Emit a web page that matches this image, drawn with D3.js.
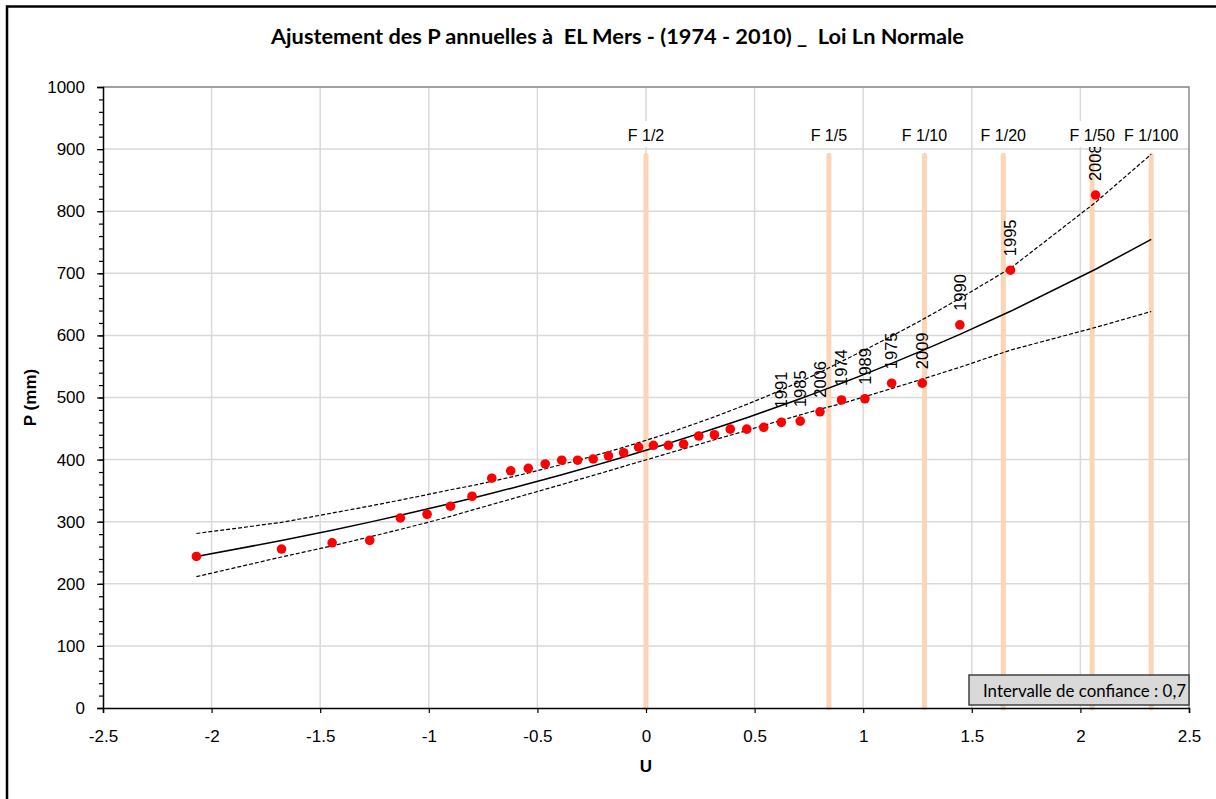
<!DOCTYPE html>
<html><head><meta charset="utf-8">
<script src="https://cdn.jsdelivr.net/npm/d3@7"></script>
<style>body{margin:0;background:#fff}svg{display:block}</style>
</head><body><svg id="c" width="1216" height="799"></svg>
<script>
// Observed annual precipitation (sorted) and their plotting positions U
const pointU = [-2.070,-1.678,-1.445,-1.272,-1.131,-1.008,-0.900,-0.801,-0.710,-0.623,-0.542,-0.464,-0.388,-0.315,-0.243,-0.173,-0.103,-0.034,
                 0.034, 0.103, 0.173, 0.243, 0.315, 0.388, 0.464, 0.542, 0.623, 0.710, 0.801, 0.900, 1.008, 1.131, 1.272, 1.445, 1.678, 2.070];
const pointP = [244,256,266,270,306,312,325,341,370,382,386,393,399,399,401,406,411,420,
                423,423,425,438,440,449,449,452,460,462,477,496,498,523,523,617,705,826];
const labelYears = ["1991","1985","2006","1974","1989","1975","2009","1990","1995","2008"]; // last 10 points
// Fitted log-normal curve and confidence bounds
const fitU = [-2.070,-1.678,-1.445,-1.272,-1.131,-1.008,-0.900,-0.801,-0.710,-0.623,-0.542,-0.464,-0.388,-0.315,-0.243,-0.173,-0.103,-0.034,
               0.034, 0.103, 0.173, 0.243, 0.315, 0.388, 0.464, 0.542, 0.623, 0.710, 0.801, 0.900, 1.008, 1.131, 1.272, 1.445, 1.678, 2.070, 2.326];
const fitP = [243.8,269.6,286.3,299.3,310.3,320.3,329.3,337.8,345.8,353.6,361.1,368.4,375.6,382.7,389.9,396.9,404.2,411.4,
              418.6,426.1,433.9,441.8,450.0,458.5,467.5,477.0,487.1,498.1,509.9,523.0,537.7,555.0,575.4,601.6,638.8,706.5,754.5];
const upperP = [281.0,298.9,313.9,325.2,334.8,343.5,351.4,358.0,365.0,371.7,378.5,385.3,392.1,398.7,405.8,412.7,419.8,427.3,
                434.8,442.6,451.2,459.8,468.9,478.6,489.0,500.0,512.1,525.7,540.3,558.1,576.7,598.8,625.2,659.6,708.1,814.3,891.7];
const lowerP = [211.5,243.2,261.1,275.5,287.6,298.6,308.6,318.7,327.6,336.3,344.5,352.2,359.8,367.3,374.6,381.7,389.1,396.1,
                403.0,410.2,417.3,424.5,431.9,439.2,446.9,455.1,463.3,471.9,481.1,490.1,501.4,514.4,529.6,548.7,576.3,612.9,638.5];
// Return-period markers
const returnLabels = ["F 1/2","F 1/5","F 1/10","F 1/20","F 1/50","F 1/100"];
const returnU = [0, 0.842, 1.282, 1.645, 2.054, 2.326];
const returnTop = 890;
const xTicks = [-2.5,-2,-1.5,-1,-0.5,0,0.5,1,1.5,2,2.5];
const yTicks = [0,100,200,300,400,500,600,700,800,900,1000];
const yMinorTicks = d3.range(0, 1001, 20);
const titleText = "Ajustement des P annuelles à  EL Mers - (1974 - 2010) _  Loi Ln Normale";
const legendText = "Intervalle de confiance : 0,7";

const svg = d3.select("#c");
const x = d3.scaleLinear().domain([-2.5, 2.5]).range([103, 1189]);
const y = d3.scaleLinear().domain([0, 1000]).range([708, 87]);
const F = "'Liberation Sans', Arial, sans-serif";

// gridlines
const g = svg.append("g");
g.selectAll("line.h").data(yTicks.filter(d => d > 0)).join("line")
  .attr("x1", x(-2.5)).attr("x2", x(2.5)).attr("y1", d => y(d)).attr("y2", d => y(d))
  .attr("stroke", "#d9d9d9").attr("stroke-width", 1.5);
g.selectAll("line.v").data(xTicks.filter(d => d > -2.5 && d < 2.5)).join("line")
  .attr("x1", d => x(d)).attr("x2", d => x(d)).attr("y1", y(0)).attr("y2", y(1000))
  .attr("stroke", "#d9d9d9").attr("stroke-width", 1.5);
// plot area border (top and right)
svg.append("path").attr("d", `M${x(-2.5)},${y(1000)}H${x(2.5)}V${y(0)}`)
  .attr("fill", "none").attr("stroke", "#8c8c8c").attr("stroke-width", 1.5);

// return period lines
svg.append("g").selectAll("line").data(returnU).join("line")
  .attr("x1", d => x(d)).attr("x2", d => x(d)).attr("y1", y(returnTop)).attr("y2", y(0))
  .attr("stroke", "#fbd5b5").attr("stroke-width", 5).attr("stroke-linecap", "round");

// curves
const mk = arr => d3.line().x((d, i) => x(fitU[i])).y(d => y(d))(arr);
svg.append("path").attr("d", mk(upperP)).attr("fill", "none").attr("stroke", "#000")
  .attr("stroke-width", 1.2).attr("stroke-dasharray", "4,2");
svg.append("path").attr("d", mk(lowerP)).attr("fill", "none").attr("stroke", "#000")
  .attr("stroke-width", 1.2).attr("stroke-dasharray", "4,2");
svg.append("path").attr("d", mk(fitP)).attr("fill", "none").attr("stroke", "#000")
  .attr("stroke-width", 1.5);

// points
svg.append("g").selectAll("circle").data(pointP).join("circle")
  .attr("cx", (d, i) => x(pointU[i])).attr("cy", d => y(d)).attr("r", 4.8).attr("fill", "#ff0000");

// year labels
const off = pointP.length - labelYears.length;
svg.append("g").selectAll("text").data(labelYears).join("text")
  .attr("transform", (d, i) => `translate(${x(pointU[off + i])},${y(pointP[off + i]) - 14}) rotate(-90)`)
  .attr("dy", "0.35em").attr("font-family", F).attr("font-size", 16.5).attr("fill", "#000")
  .text(d => d);

// return period labels with white background
const rl = svg.append("g");
returnLabels.forEach((t, i) => {
  const tx = rl.append("text").attr("x", x(returnU[i])).attr("y", 141)
    .attr("text-anchor", "middle").attr("font-family", F).attr("font-size", 16).attr("fill", "#000").text(t);
  const bb = tx.node().getBBox();
  rl.insert("rect", "text").attr("x", bb.x - 2).attr("y", 121).attr("width", bb.width + 4).attr("height", 26).attr("fill", "#fff");
});

// axes
const ya = svg.append("g").attr("transform", `translate(${x(-2.5)},0)`)
  .call(d3.axisLeft(y).tickValues(yTicks).tickSize(6).tickPadding(12).tickFormat(d => d));
const yam = svg.append("g").attr("transform", `translate(${x(-2.5)},0)`)
  .call(d3.axisLeft(y).tickValues(yMinorTicks).tickSize(4).tickFormat(""));
yam.select(".domain").remove();
const xa = svg.append("g").attr("transform", `translate(0,${y(0)})`)
  .call(d3.axisBottom(x).tickValues(xTicks).tickSize(5).tickPadding(17).tickFormat(d => String(d)));
[ya, yam, xa].forEach(a => {
  a.selectAll(".domain").attr("stroke", "#000").attr("stroke-width", 1.5);
  a.selectAll(".tick line").attr("stroke", "#000").attr("stroke-width", 1.2);
  a.selectAll("text").attr("font-family", F).attr("font-size", 17).attr("fill", "#000");
});

// legend box
svg.append("rect").attr("x", 969).attr("y", 675).attr("width", 220).attr("height", 30)
  .attr("fill", "#d9d9d9").attr("stroke", "#404040").attr("stroke-width", 1.5);
svg.append("text").attr("x", 983).attr("y", 697).attr("font-family", "Lato, 'Open Sans', sans-serif")
  .attr("font-size", 17).attr("textLength", 203).attr("lengthAdjust", "spacingAndGlyphs").text(legendText);

// titles
svg.append("text").attr("x", 617.5).attr("y", 44).attr("text-anchor", "middle")
  .attr("font-family", "Lato, 'Open Sans', sans-serif").attr("font-weight", "bold").attr("font-size", 20)
  .attr("textLength", 693).attr("lengthAdjust", "spacingAndGlyphs").style("white-space", "pre").text(titleText);
svg.append("text").attr("transform", `translate(36,${(y(0) + y(1000)) / 2}) rotate(-90)`)
  .attr("text-anchor", "middle").attr("font-family", F).attr("font-weight", "bold").attr("font-size", 17).text("P (mm)");
svg.append("text").attr("x", x(0)).attr("y", 772).attr("text-anchor", "middle")
  .attr("font-family", F).attr("font-weight", "bold").attr("font-size", 17).text("U");

// outer frame
svg.append("path").attr("d", "M7,800V6.5H1217").attr("fill", "none").attr("stroke", "#000").attr("stroke-width", 2.5);
</script></body></html>
